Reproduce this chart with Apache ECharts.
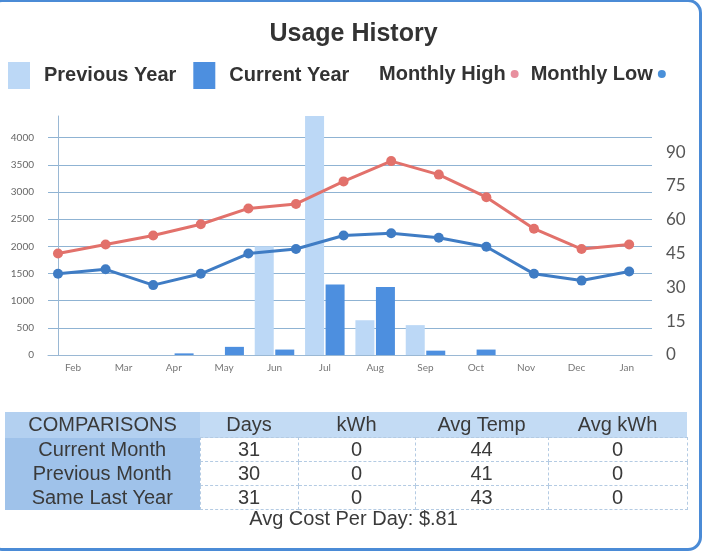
<!DOCTYPE html>
<html lang="en">
<head>
    <meta charset="UTF-8">
    <title>Usage History</title>
    <script src="https://cdn.jsdelivr.net/npm/echarts@6/dist/echarts.min.js"></script>
    <style>
        body { margin: 0; background: #fff; }
        #wrap { position: relative; width: 707px; height: 554px; overflow: hidden; }
        #main { position: absolute; left: 0; top: 0; width: 707px; height: 554px; }
        #frame {
            position: absolute; left: -12px; top: -1px; width: 714px; height: 552px;
            box-sizing: border-box; border: 3px solid #4b8bd6; border-radius: 14px;
            pointer-events: none;
        }
        #comp {
            position: absolute; left: 5px; top: 412px; width: 682px;
            border-collapse: collapse; font-family: 'Liberation Sans', Arial, sans-serif;
            font-size: 20px; color: #3a3a3a; table-layout: fixed;
        }
        #comp td, #comp th { font-weight: normal; text-align: center; padding: 0; line-height: 23px; }
        #comp thead th { background: #c3dbf4; height: 25px; }
        #comp thead th:first-child { background: #b3d0f0; }
        #comp tbody th { background: #9fc2ea; }
        #comp tbody td { background: #fff; border: 1px dashed #b4cbe3; }
        #cost {
            position: absolute; left: 0; width: 707px; top: 507px; text-align: center;
            font-family: 'Liberation Sans', Arial, sans-serif; font-size: 20px; color: #3a3a3a;
        }
    </style>
</head>
<body>
<div id="wrap">
    <div id="main"></div>
    <table id="comp">
        <colgroup>
            <col style="width:195px"><col style="width:98px"><col style="width:117px">
            <col style="width:133px"><col style="width:139px">
        </colgroup>
        <thead><tr id="headRow"></tr></thead>
        <tbody id="bodyRows"></tbody>
    </table>
    <div id="cost"></div>
    <div id="frame"></div>
</div>
<script>
    // chart data
    var months = ['Feb', 'Mar', 'Apr', 'May', 'Jun', 'Jul', 'Aug', 'Sep', 'Oct', 'Nov', 'Dec', 'Jan'];
    var previousYear = [0, 0, 0, 0, 2000, 4400, 640, 550, 0, 0, 0, 0];
    var currentYear = [0, 0, 30, 150, 100, 1300, 1250, 80, 100, 0, 0, 0];
    // temperature lines have 13 points (one more than the bars)
    var monthlyHigh = [45, 49, 53, 58, 65, 67, 77, 86, 80, 70, 56, 47, 49];
    var monthlyLow = [36, 38, 31, 36, 45, 47, 53, 54, 52, 48, 36, 33, 37];

    // comparison table
    var compHeaders = ['COMPARISONS', 'Days', 'kWh', 'Avg Temp', 'Avg kWh'];
    var compRows = ['Current Month', 'Previous Month', 'Same Last Year'];
    var compDays = [31, 30, 31];
    var compKwh = [0, 0, 0];
    var compAvgTemp = [44, 41, 43];
    var compAvgKwh = [0, 0, 0];
    var avgCostPerDay = '$.81';

    function withIndex(arr) {
        var out = [];
        for (var i = 0; i < arr.length; i++) {
            out.push([i, arr[i]]);
        }
        return out;
    }

    // build table
    var head = '';
    for (var h = 0; h < compHeaders.length; h++) {
        head += '<th>' + compHeaders[h] + '</th>';
    }
    document.getElementById('headRow').innerHTML = head;
    var body = '';
    for (var r = 0; r < compRows.length; r++) {
        body += '<tr><th>' + compRows[r] + '</th><td>' + compDays[r] + '</td><td>' + compKwh[r] +
            '</td><td>' + compAvgTemp[r] + '</td><td>' + compAvgKwh[r] + '</td></tr>';
    }
    document.getElementById('bodyRows').innerHTML = body;
    document.getElementById('cost').textContent = 'Avg Cost Per Day: ' + avgCostPerDay;

    var myChart = echarts.init(document.getElementById('main'));
    var legendText = {
        fontFamily: "'Liberation Sans', Arial, sans-serif",
        fontWeight: 'bold',
        fontSize: 20,
        color: '#333'
    };
    var option = {
        animation: false,
        title: {
            text: 'Usage History',
            left: 'center',
            top: 17,
            textStyle: {
                fontFamily: "'Liberation Sans', Arial, sans-serif",
                fontWeight: 'bold',
                fontSize: 25,
                color: '#333'
            }
        },
        legend: [{
            data: ['Previous Year', 'Current Year'],
            left: 3,
            top: 57,
            itemWidth: 22,
            itemHeight: 27,
            itemGap: 17,
            icon: 'rect',
            textStyle: echarts.util.extend({padding: [0, 0, 0, 9]}, legendText)
        }, {
            data: [
                {name: 'Monthly High', itemStyle: {color: '#e88f9e'}},
                {name: 'Monthly Low', itemStyle: {color: '#4a90d9'}}
            ],
            left: 374,
            top: 59,
            align: 'right',
            icon: 'circle',
            itemWidth: 8,
            itemHeight: 8,
            itemGap: 12,
            textStyle: legendText
        }],
        grid: {
            left: 48,
            right: 55,
            top: 116,
            bottom: 199
        },
        xAxis: [{
            type: 'category',
            data: months,
            axisLine: {lineStyle: {color: '#9ab8d4'}},
            axisTick: {alignWithLabel: true, length: 4, lineStyle: {color: '#7fa7c9'}},
            axisLabel: {fontFamily: 'Lato, sans-serif', fontSize: 10, color: '#777', margin: 8}
        }, {
            type: 'value',
            min: -0.21,
            max: 12.48,
            show: false
        }],
        yAxis: [{
            type: 'value',
            min: 0,
            max: 4400,
            interval: 500,
            position: 'left',
            axisLine: {show: true, lineStyle: {color: '#9ab8d4'}},
            axisTick: {show: false},
            axisLabel: {
                fontFamily: 'Lato, sans-serif', fontSize: 10, color: '#666', margin: 14,
                showMaxLabel: false,
                formatter: function (v) { return String(v); }
            },
            splitLine: {showMaxLine: false, lineStyle: {color: '#8fb3d3', width: 1}}
        }, {
            type: 'value',
            min: 0,
            max: 106,
            interval: 15,
            position: 'right',
            axisLine: {show: false},
            axisTick: {show: false},
            splitLine: {show: false},
            axisLabel: {
                fontFamily: 'Lato, sans-serif', fontSize: 17, color: '#555', margin: 14,
                formatter: function (v) { return v > 90 ? '' : String(v); }
            }
        }],
        series: [{
            name: 'Previous Year',
            type: 'bar',
            data: previousYear,
            barWidth: 19,
            barGap: '8%',
            itemStyle: {color: '#bcd8f6'}
        }, {
            name: 'Current Year',
            type: 'bar',
            data: currentYear,
            barWidth: 19,
            itemStyle: {color: '#4d8fdf'}
        }, {
            name: 'Monthly High',
            type: 'line',
            xAxisIndex: 1,
            yAxisIndex: 1,
            data: withIndex(monthlyHigh),
            symbol: 'circle',
            symbolSize: 10,
            lineStyle: {width: 3, color: '#e2716b'},
            itemStyle: {color: '#e2716b'}
        }, {
            name: 'Monthly Low',
            type: 'line',
            xAxisIndex: 1,
            yAxisIndex: 1,
            data: withIndex(monthlyLow),
            symbol: 'circle',
            symbolSize: 10,
            lineStyle: {width: 3, color: '#3f7cc4'},
            itemStyle: {color: '#3f7cc4'}
        }]
    };
    myChart.setOption(option);
</script>
</body>
</html>
